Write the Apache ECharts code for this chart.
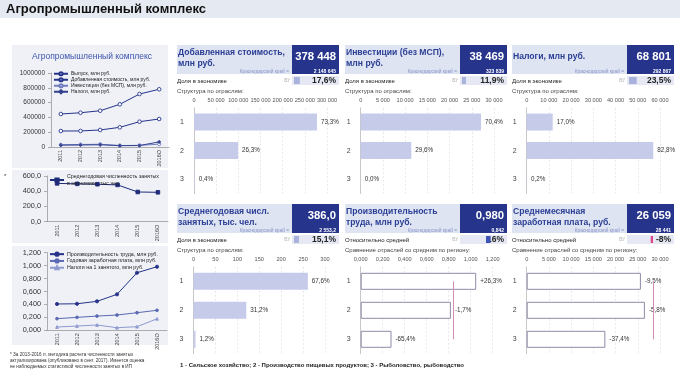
<!DOCTYPE html>
<html><head><meta charset="utf-8">
<script src="https://cdn.jsdelivr.net/npm/echarts@6/dist/echarts.min.js"></script>
<style>html,body{margin:0;padding:0;background:#fff}#c{width:680px;height:388px}</style>
</head><body><div id="c"></div>
<script>
// ---------- DATA ----------
const years = ['2011','2012','2013','2014','2015','2016О'];
const outputMln = [446000, 463000, 490000, 577000, 716000, 780000];
const addedValueMln = [216000, 217000, 230000, 266000, 342000, 378448];
const investMln = [30000, 34000, 37000, 20000, 22000, 38469];
const taxesMln = [25000, 27000, 30000, 18000, 20000, 68801];
const employedK = [503, 497, 492, 483, 390, 386];
const productivity = [0.407, 0.41, 0.448, 0.556, 0.89, 0.983];
const annualWage = [0.18, 0.2, 0.22, 0.236, 0.272, 0.309];
const taxPerEmployee = [0.051, 0.066, 0.082, 0.04, 0.056, 0.178];

const industries = ['1','2','3'];
const avIndustry = [277400, 99500, 1500];
const avLabels = ['73,3%','26,3%','0,4%'];
const invIndustry = [27080, 11390, 0];
const invLabels = ['70,4%','29,6%','0,0%'];
const taxIndustry = [11700, 56970, 140];
const taxLabels = ['17,0%','82,8%','0,2%'];
const empIndustry = [260.9, 120.4, 4.6];
const empLabels = ['67,6%','31,2%','1,2%'];
const prodIndustry = [1.05, 0.82, 0.28];
const prodLabels = ['+26,3%','-1,7%','-65,4%'];
const wageIndustry = [25700, 26600, 17700];
const wageLabels = ['-9,5%','-5,8%','-37,4%'];

const kpiTitles = [['Добавленная стоимость,','млн руб.'],['Инвестиции (без МСП),','млн руб.'],['Налоги, млн руб.'],
                   ['Среднегодовая числ.','занятых, тыс. чел.'],['Производительность','труда, млн руб.'],['Среднемесячная','заработная плата, руб.']];
const kpiValues = ['378 448','38 469','68 801','386,0','0,980','26 059'];
const kpiRegion = ['2 148 645','323 839','292 867','2 553,2','0,842','28 441'];
const kpiShareText = ['17,6%','11,9%','23,5%','15,1%','16%','-8%'];
const kpiShareVal = [17.6, 11.9, 23.5, 15.1, 16, -8];
const regionAvg = [null, null, null, null, 0.842, 28441];
const axisMax = [300000, 30000, 60000, 300, 1.2, 30000];
const axisStep = [50000, 5000, 10000, 50, 0.2, 5000];
const industryValues = [avIndustry, invIndustry, taxIndustry, empIndustry, prodIndustry, wageIndustry];
const industryLabels = [avLabels, invLabels, taxLabels, empLabels, prodLabels, wageLabels];

// ---------- HELPERS ----------
const FONT = '"Liberation Sans", Arial, sans-serif';
const NAVY = '#26348c';
const spaceFmt = v => String(Math.round(v)).replace(/\B(?=(\d{3})+(?!\d))/g, ' ');
const dec = (v, n) => v.toFixed(n).replace('.', ',');

const grid = [], xAxis = [], yAxis = [], series = [], legend = [], graphic = [];

function txt(x, y, text, o) {
  o = o || {};
  graphic.push({type:'text', x, y, silent:true, style:{text, fill:o.fill||'#222',
    font:(o.bold?'bold ':'') + (o.size||6) + 'px ' + FONT, align:o.align||'left', verticalAlign:'middle'}});
}
function rect(x, y, w, h, fill) {
  graphic.push({type:'rect', silent:true, shape:{x, y, width:w, height:h}, style:{fill}});
}

// ---------- BACKGROUND ----------
rect(0, 0, 680, 18, '#e5e9f1');
txt(6, 9.5, 'Агропромышленный комплекс', {bold:true, size:13, fill:'#111'});
rect(12, 45, 156, 123, '#eff1f7');
rect(12, 170, 156, 73, '#eff1f7');
rect(12, 246, 156, 99, '#eff1f7');
txt(92, 57, 'Агропромышленный комплекс', {size:8.5, fill:'#3d54ad', align:'center'});
txt(4, 176, '*', {size:6, fill:'#333'});
txt(10, 355, '* За 2013-2016 гг. методика расчета численности занятых', {size:4.6, fill:'#333'});
txt(10, 361, 'актуализирована (опубликовано в сент. 2017). Имеется оценка', {size:4.6, fill:'#333'});
txt(10, 367, 'не наблюдаемых статистикой численности занятых в ИП', {size:4.6, fill:'#333'});
txt(180, 365, '1 - Сельское хозяйство; 2 - Производство пищевых продуктов; 3 - Рыболовство, рыбоводство', {bold:true, size:6, fill:'#222'});

// ---------- LEFT LINE CHARTS ----------
function lineChart(g, yMax, yStep, fmt, labelSize, legendPos, items) {
  const gi = grid.length;
  grid.push(g);
  xAxis.push({gridIndex:gi, type:'category', data:years, boundaryGap:true,
    axisLine:{lineStyle:{color:'#9a9a9a', width:0.8}}, axisTick:{length:3, lineStyle:{color:'#9a9a9a', width:0.8}},
    axisLabel:{rotate:90, fontSize:5.5, color:'#444', margin:3}});
  yAxis.push({gridIndex:gi, type:'value', min:0, max:yMax, interval:yStep, splitLine:{show:false},
    axisLine:{show:true, lineStyle:{color:'#9a9a9a', width:0.8}}, axisTick:{show:true, length:3, lineStyle:{color:'#9a9a9a', width:0.8}},
    axisLabel:{fontSize:labelSize, color:'#333', margin:6, formatter:fmt}});
  items.forEach(it => {
    series.push({type:'line', name:it.name, xAxisIndex:gi, yAxisIndex:gi, data:it.data,
      symbol:it.symbol, symbolSize:it.size, showSymbol:true,
      lineStyle:{color:it.color, width:1},
      itemStyle:{color:it.fill || it.color, borderColor:it.color, borderWidth:0.9}});
  });
  legend.push(Object.assign({orient:'vertical', padding:0, itemGap:0.5, itemWidth:14, itemHeight:4,
    data:items.map(i => i.name), selectedMode:false,
    textStyle:{fontSize:5, color:'#222', padding:[0,0,0,-2], lineHeight:5.5}}, legendPos));
}

lineChart({left:51, top:73, width:118, height:74}, 1000000, 200000, v => String(v), 6.5, {left:53, top:71},
  [{name:'Выпуск, млн руб.', data:outputMln, symbol:'circle', size:3.6, color:NAVY, fill:'#fff'},
   {name:'Добавленная стоимость, млн руб.', data:addedValueMln, symbol:'circle', size:3.6, color:NAVY, fill:'#fff'},
   {name:'Инвестиции (без МСП), млн руб.', data:investMln, symbol:'circle', size:3.2, color:'#6f7cc0', fill:'#fff'},
   {name:'Налоги, млн руб.', data:taxesMln, symbol:'diamond', size:3.2, color:'#33418f'}]);

lineChart({left:47, top:176, width:121, height:45.7}, 600, 200, v => dec(v, 1), 7.3, {left:49, top:173},
  [{name:'Среднегодовая численность занятых\nв экономике, тыс.чел.', data:employedK, symbol:'rect', size:3.6, color:'#1e2b7a'}]);

lineChart({left:47, top:252.7, width:120, height:77.6}, 1.2, 0.2, v => dec(v, 3), 7.3, {left:49, top:251},
  [{name:'Производительность труда, млн руб.', data:productivity, symbol:'circle', size:3.2, color:'#27338a'},
   {name:'Годовая заработная плата, млн руб.', data:annualWage, symbol:'circle', size:2.8, color:'#5b6ab2'},
   {name:'Налоги на 1 занятого, млн руб.', data:taxPerEmployee, symbol:'triangle', size:2.8, color:'#8e9ad0'}]);
legend[1].textStyle.lineHeight = 7;
legend[1].textStyle.fontSize = 5.3;
legend[2].textStyle.fontSize = 5.3;
legend[2].textStyle.lineHeight = 6.3;

// ---------- KPI PANELS ----------
const colX = [177, 345, 512];
const rowBase = [45, 204];
const plotLeft = [194, 360.7, 526.7, 193.5, 360.7, 526.7];
const plotRight = [327, 494, 660, 325, 492.7, 660];
const gridTopOff = 62.8;

for (let p = 0; p < 6; p++) {
  const x0 = colX[p % 3], base = rowBase[Math.floor(p / 3)];
  const dl = x0 + 115, dr = dl + 47;
  const comparison = regionAvg[p] !== null;
  rect(x0, base, dl - x0, 29, '#dfe4f3');
  rect(dl, base, dr - dl, 29, NAVY);
  const t = kpiTitles[p];
  if (t.length === 2) { txt(x0 + 1, base + 7.5, t[0], {bold:true, size:8.6, fill:'#2a3e94'}); txt(x0 + 1, base + 18.3, t[1], {bold:true, size:8.6, fill:'#2a3e94'}); }
  else txt(x0 + 1, base + 12, t[0], {bold:true, size:8.6, fill:'#2a3e94'});
  txt(dl - 3, base + 26.5, 'Краснодарский край =', {size:4.8, fill:'#8a95c8', align:'right'});
  txt(dr - 3, base + 12, kpiValues[p], {bold:true, size:11.3, fill:'#fff', align:'right'});
  txt(dr - 3, base + 26.3, kpiRegion[p], {bold:true, size:5, fill:'#fff', align:'right'});
  rect(dl, base + 31, dr - dl, 9, '#e6e9f4');
  txt(x0, base + 36, comparison ? 'Относительно средней' : 'Доля в экономике', {size:6, fill:'#222'});
  txt(dl - 2, base + 36, 'ВУ', {size:4.5, fill:'#b0b0b0', align:'right'});
  txt(dr - 3, base + 36, kpiShareText[p], {bold:true, size:8.5, fill:'#222', align:'right'});
  txt(x0, base + 46, comparison ? 'Сравнение отраслей со средним по региону:' : 'Структура по отраслям:', {size:6, fill:'#444'});

  // tiny in-cell bar
  const tg = grid.length;
  grid.push(comparison ? {left:dl + 9, top:base + 32, width:34, height:7} : {left:dl + 2, top:base + 32, width:33, height:7});
  xAxis.push({gridIndex:tg, type:'value', show:false, min:comparison ? -60 : 0, max:comparison ? 60 : 100});
  yAxis.push({gridIndex:tg, type:'category', show:false, data:['v']});
  series.push({type:'bar', xAxisIndex:tg, yAxisIndex:tg, data:[kpiShareVal[p]], barWidth:7, silent:true,
    itemStyle:{color: comparison ? (kpiShareVal[p] >= 0 ? '#3c52b4' : '#e0458d') : '#a9b2dd'}});

  // industry bar chart
  const gi = grid.length;
  const gt = base + gridTopOff;
  grid.push({left:plotLeft[p], top:gt, width:plotRight[p] - plotLeft[p], height:comparison || p === 3 ? 87 : 85.6});
  const step = axisStep[p];
  xAxis.push({gridIndex:gi, type:'value', position:'top', min:0, max:axisMax[p], interval:step,
    axisLine:{show:false}, axisTick:{show:false},
    splitLine:{show:true, lineStyle:{color:'#d9d9d9', width:0.6, type:[2,2]}},
    axisLabel:{fontSize:5.6, color:'#555', margin:4, hideOverlap:false,
      formatter: v => step < 1 ? dec(v, 3) : spaceFmt(v)}});
  yAxis.push({gridIndex:gi, type:'category', data:industries, inverse:true,
    axisLine:{lineStyle:{color:'#bdbdbd', width:0.8}}, axisTick:{length:3, lineStyle:{color:'#bdbdbd', width:0.8}},
    axisLabel:{fontSize:7, color:'#444', margin:10}});
  const labels = industryLabels[p];
  const s = {type:'bar', xAxisIndex:gi, yAxisIndex:gi, data:industryValues[p], barWidth:17, silent:true,
    itemStyle: comparison ? {color:'#fff', borderColor:'#8e8aa8', borderWidth:1} : {color:'#c6cbea'},
    label:{show:true, position:'right', distance:4, fontSize:6.3, color:'#333', formatter: d => labels[d.dataIndex]}};
  if (comparison) {
    s.markLine = {silent:true, symbol:'none', label:{show:false}, animation:false,
      lineStyle:{color:'#cf8fb5', width:1, type:'solid'},
      data:[[{coord:[regionAvg[p], industries[0]]}, {coord:[regionAvg[p], industries[2]]}]]};
  }
  series.push(s);
}

const chart = echarts.init(document.getElementById('c'), null, {renderer:'canvas'});
chart.setOption({
  animation:false,
  textStyle:{fontFamily:FONT},
  grid, xAxis, yAxis, series, legend, graphic
});
</script></body></html>
